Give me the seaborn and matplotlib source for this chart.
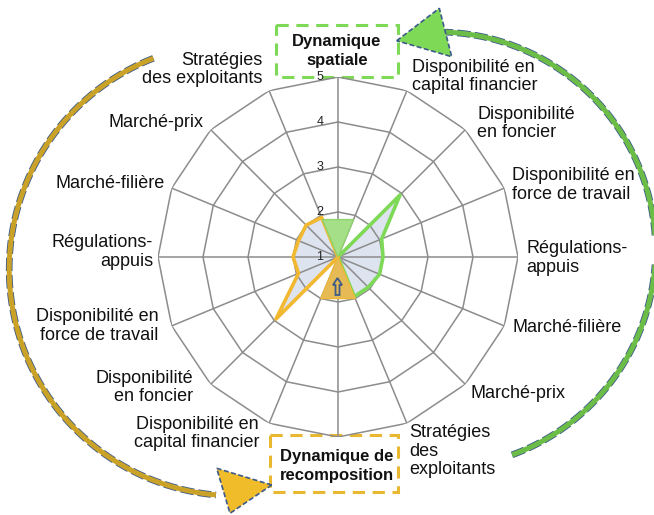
import numpy as np
import matplotlib.pyplot as plt
import seaborn as sns
from matplotlib.patches import Rectangle, Polygon, FancyArrow

# Axes du radar, dans le sens horaire depuis le haut
axes_labels = [
    "Dynamique spatiale",
    "Disponibilité en\ncapital financier",
    "Disponibilité\nen foncier",
    "Disponibilité en\nforce de travail",
    "Régulations-\nappuis",
    "Marché-filière",
    "Marché-prix",
    "Stratégies\ndes\nexploitants",
    "Dynamique de\nrecomposition",
    "Disponibilité en\ncapital financier",
    "Disponibilité\nen foncier",
    "Disponibilité en\nforce de travail",
    "Régulations-\nappuis",
    "Marché-filière",
    "Marché-prix",
    "Stratégies\ndes exploitants",
]
ring_ticks = [1, 2, 3, 4, 5]

# Scores (1 = centre)
spatiale = [1, 1, 2.95, 2.05, 2.0, 2.0, 1.95, 1.95, 1, 1, 1, 1, 1, 1, 1, 1]
recomposition = [1, 1, 1, 1, 1, 1, 1, 1, 1, 1, 2.95, 1.95, 2.0, 1.95, 2.0, 1.95]

# Secteurs mis en avant (indices d'axes, valeurs)
spatiale_axes = [15, 0, 1]
spatiale_sect = [1.9, 1, 1.9]
recompo_axes = [7, 8, 9]
recompo_sect = [2.0, 1, 2.0]

# décalage des étiquettes (pixels) et alignement
label_pos = {
    1: (5, 14, "left"), 2: (12, 6, "left"), 3: (8, 3, "left"),
    4: (8, -1, "left"), 5: (8, -2, "left"), 6: (5, -9, "left"),
    7: (2, -28, "left"),
    9: (-10, -10, "right"), 10: (-18, -3, "right"), 11: (-13, 0, "right"),
    12: (-5, 5, "right"), 13: (-7, 5, "right"), 14: (-7, 7, "right"),
    15: (-7, 21, "right"),
}

sns.set_theme(style="white")
plt.rcParams['font.family'] = ['Liberation Sans', 'DejaVu Sans']

GREEN = '#7ed957'
GOLD = '#f2b830'
NAVY = '#3d5a8a'
GRID = '#8c8c8c'

W, H = 654, 515
cx, cy, R = 338, 257, 180
fig = plt.figure(figsize=(W / 100, H / 100), dpi=100)
ax = fig.add_axes([(cx - R) / W, (H - cy - R) / H, 2 * R / W, 2 * R / H],
                  projection='polar')
ax.set_theta_zero_location('N')
ax.set_theta_direction(-1)
ax.set_axis_off()

n = len(axes_labels)
theta = np.linspace(0, 2 * np.pi, n, endpoint=False)
th_closed = np.append(theta, 2 * np.pi)

# grille polygonale
for v in ring_ticks[1:]:
    ax.plot(th_closed, [v] * (n + 1), color=GRID, lw=1.1, zorder=2)
for t in theta:
    ax.plot([t, t], [1, 5], color=GRID, lw=1.1, zorder=2)

# séries
for vals, col in [(spatiale, GREEN), (recomposition, GOLD)]:
    r_closed = np.append(vals, vals[0])
    ax.fill(th_closed, r_closed, color='#dde3ef', lw=0, zorder=1)
    sns.lineplot(x=th_closed, y=r_closed, sort=False, estimator=None, ax=ax,
                 color=col, lw=2.6, zorder=3)

ax.fill(theta[spatiale_axes], spatiale_sect, facecolor='#a5e088',
        edgecolor='#8fd46b', lw=1, zorder=4)
ax.fill(theta[recompo_axes], recompo_sect, facecolor='#e6bb55',
        edgecolor='#eeb93a', lw=1, zorder=4)
ax.set_ylim(1, 5)

# calque en pixels pour cadres et flèches (sous le radar)
ov = fig.add_axes([0, 0, 1, 1], zorder=-1)
ov.set_xlim(0, W)
ov.set_ylim(H, 0)
ov.set_axis_off()
ov.patch.set_alpha(0)
ax.patch.set_alpha(0)

for v in ring_ticks:
    ax.annotate(str(v), xy=(0, v), xytext=(-18, 0), textcoords='offset pixels',
                ha='center', va='center', fontsize=9, color='#222222', zorder=6,
                annotation_clip=False)

for i, lab in enumerate(axes_labels):
    if i not in label_pos:
        continue
    dx, dy, ha = label_pos[i]
    ax.annotate(lab, xy=(theta[i], 5), xytext=(dx, dy), textcoords='offset pixels',
                ha=ha, va='center', multialignment=ha, fontsize=13,
                linespacing=1.1, color='#111111', annotation_clip=False)

ov.add_patch(Rectangle((276, 25), 122, 52, facecolor='white', edgecolor=GREEN,
                       lw=2.2, ls=(0, (4, 2.5)), zorder=2))
ov.text(337, 51, "Dynamique\nspatiale", ha='center', va='center', fontsize=12,
        fontweight='bold', linespacing=1.3, color='#111111', zorder=3)
ov.add_patch(Rectangle((270, 435), 128, 57, facecolor='white', edgecolor='#e8b830',
                       lw=2.2, ls=(0, (4, 2.5)), zorder=2))
ov.text(337, 466, "Dynamique de\nrecomposition", ha='center', va='center',
        fontsize=12, fontweight='bold', linespacing=1.35, color='#111111', zorder=3)


def arc(xc, yc, rad, a0, a1, col):
    a = np.radians(np.linspace(a0, a1, 200))
    xs, ys = xc + rad * np.cos(a), yc + rad * np.sin(a)
    ov.plot(xs, ys, color=NAVY, lw=4.8, ls=(0, (2, 0.6)), solid_capstyle='butt', zorder=1)
    ov.plot(xs, ys, color=col, lw=3.6, solid_capstyle='butt', zorder=1.5)


arc(437.5, 250, 218, 70, -88, '#6cbc48')
ov.add_patch(Polygon([(396.7, 40.7), (439.3, 8.3), (451.7, 56.7)], closed=True,
                     facecolor=GREEN, edgecolor=NAVY, lw=1.2, ls=(0, (3, 1.5)), zorder=2))
arc(235.7, 269.3, 226.5, 248.7, 95, '#c9a227')
ov.add_patch(Polygon([(271.7, 485), (216.7, 468.3), (230, 513.3)], closed=True,
                     facecolor='#f0bc2a', edgecolor=NAVY, lw=1.2, ls=(0, (3, 1.5)), zorder=2))

# petite flèche dans le secteur de recomposition (au-dessus du radar)
ax.add_patch(FancyArrow(337.5, 295, 0, -17, width=4, head_width=9, head_length=7,
                        length_includes_head=True, facecolor='#e6bb55',
                        edgecolor=NAVY, lw=1.3, zorder=5,
                        transform=ov.transData))

fig.savefig("out.png", dpi=100)
